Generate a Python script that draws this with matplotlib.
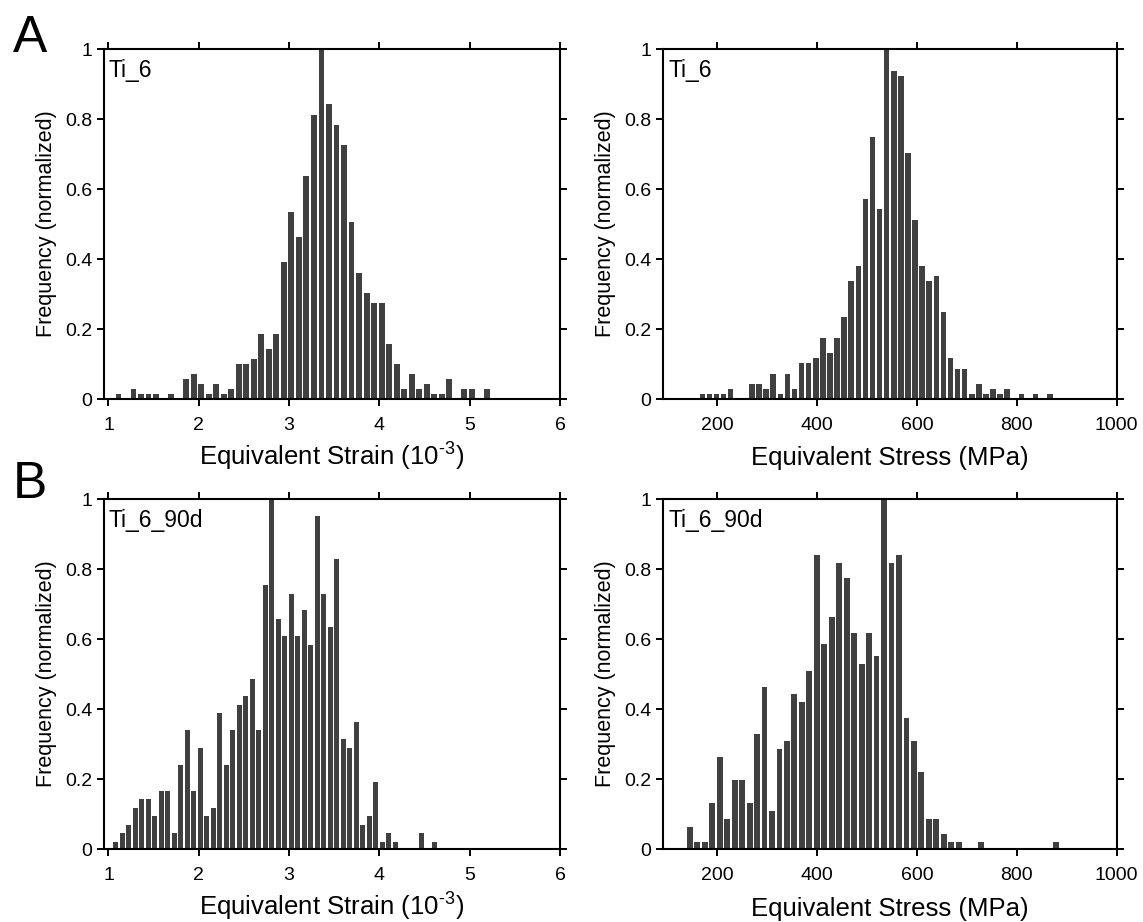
import numpy as np
import matplotlib
matplotlib.use("Agg")
import matplotlib.pyplot as plt

plt.rcParams['font.family'] = ['Liberation Sans', 'DejaVu Sans']
plt.rcParams['mathtext.fontset'] = 'custom'
plt.rcParams['mathtext.rm'] = 'Liberation Sans'
plt.rcParams['mathtext.default'] = 'regular'

# normalized histogram heights (50 bins each)
strain_ti6 = [0.014, 0, 0.029, 0.014, 0.014, 0.014, 0, 0.014, 0, 0.057,
              0.071, 0.043, 0.014, 0.043, 0.014, 0.029, 0.1, 0.1, 0.114, 0.186,
              0.143, 0.186, 0.39, 0.535, 0.463, 0.637, 0.811, 1.0, 0.842, 0.783,
              0.725, 0.507, 0.361, 0.302, 0.273, 0.273, 0.157, 0.1, 0.029, 0.071,
              0.029, 0.043, 0.014, 0.014, 0.057, 0, 0.029, 0.029, 0, 0.029]
strain_ti6_range = (1.111, 5.19)

stress_ti6 = [0.013, 0.013, 0.013, 0.013, 0.028, 0, 0, 0.043, 0.043, 0.028,
              0.072, 0.013, 0.072, 0.028, 0.102, 0.102, 0.116, 0.175, 0.13, 0.175,
              0.234, 0.336, 0.38, 0.57, 0.748, 0.542, 1.0, 0.938, 0.924, 0.703,
              0.512, 0.38, 0.336, 0.35, 0.249, 0.116, 0.087, 0.087, 0.013, 0.043,
              0.013, 0.028, 0.013, 0.028, 0, 0.013, 0, 0.013, 0, 0.013]
stress_ti6_range = (170, 866)

strain_90d = [0.021, 0.045, 0.069, 0.118, 0.143, 0.143, 0.093, 0.167, 0.167, 0.045,
              0.24, 0.339, 0.167, 0.29, 0.093, 0.118, 0.389, 0.24, 0.339, 0.411,
              0.436, 0.486, 0.339, 0.755, 1.0, 0.657, 0.609, 0.73, 0.609, 0.682,
              0.584, 0.951, 0.73, 0.633, 0.83, 0.314, 0.29, 0.363, 0.069, 0.093,
              0.191, 0.021, 0.045, 0.021, 0, 0, 0, 0.045, 0, 0.021]
strain_90d_range = (1.082, 4.607)

stress_90d = [0.064, 0.02, 0.02, 0.131, 0.264, 0.087, 0.197, 0.197, 0.131, 0.33,
              0.463, 0.109, 0.286, 0.308, 0.442, 0.42, 0.508, 0.84, 0.585, 0.664,
              0.818, 0.774, 0.618, 0.53, 0.618, 0.552, 1.0, 0.818, 0.84, 0.374,
              0.308, 0.22, 0.087, 0.087, 0.042, 0.02, 0.02, 0, 0, 0.02,
              0, 0, 0, 0, 0, 0, 0, 0, 0, 0.02]
stress_90d_range = (145, 878)

sample_names = ['Ti_6', 'Ti_6_90d']
strain_label = 'Equivalent Strain (10$^{\u2010 3}$)'
stress_label = 'Equivalent Stress (MPa)'
strain_ticks = [1, 2, 3, 4, 5, 6]
stress_ticks = [200, 400, 600, 800, 1000]
y_ticks = [0, 0.2, 0.4, 0.6, 0.8, 1]
y_ticklabels = ['0', '0.2', '0.4', '0.6', '0.8', '1']

W, H = 1143, 922
fig = plt.figure(figsize=(W / 100, H / 100), dpi=100)

def px_axes(x0, y0, x1, y1):
    return fig.add_axes([x0 / W, 1 - y1 / H, (x1 - x0) / W, (y1 - y0) / H])

bar_color = '#404040'

def hist_panel(ax, heights, rng, xlim, xticks, xlabel, name):
    centers = np.linspace(rng[0], rng[1], len(heights))
    w = (rng[1] - rng[0]) / (len(heights) - 1)
    ax.bar(centers, heights, width=w * 0.78, color=bar_color, linewidth=0)
    ax.set_xlim(*xlim)
    ax.set_ylim(0, 1)
    ax.set_xticks(xticks)
    ax.set_xticklabels([str(t) for t in xticks])
    ax.set_yticks(y_ticks)
    ax.set_yticklabels(y_ticklabels)
    ax.tick_params(direction='out', length=5, width=1.4, labelsize=14,
                   top=True, right=True)
    ax.tick_params(axis='x', pad=8)
    ax.tick_params(axis='y', pad=3)
    for s in ax.spines.values():
        s.set_linewidth(1.5)
    ax.set_xlabel(xlabel, fontsize=18.5, va='baseline')
    ax.xaxis.set_label_coords(0.5, -0.19)
    ax.set_ylabel('Frequency (normalized)', fontsize=15.5, labelpad=6)
    ax.text(0.012, 0.972, name, transform=ax.transAxes, fontsize=16.5,
            ha='left', va='top')

ax1 = px_axes(103.5, 49, 560, 399)
hist_panel(ax1, strain_ti6, strain_ti6_range, (0.945, 6), strain_ticks, strain_label, sample_names[0])
ax2 = px_axes(662.7, 49, 1116.7, 399)
hist_panel(ax2, stress_ti6, stress_ti6_range, (90.6, 1000), stress_ticks, stress_label, sample_names[0])
ax3 = px_axes(103.5, 499, 560, 849)
hist_panel(ax3, strain_90d, strain_90d_range, (0.945, 6), strain_ticks, strain_label, sample_names[1])
ax4 = px_axes(662.7, 499, 1116.7, 849)
hist_panel(ax4, stress_90d, stress_90d_range, (90.6, 1000), stress_ticks, stress_label, sample_names[1])

fig.text(13 / W, 1 - 52 / H, 'A', fontsize=37, ha='left', va='baseline')
fig.text(13 / W, 1 - 498 / H, 'B', fontsize=37, ha='left', va='baseline')

fig.savefig('out.png', dpi=100)
